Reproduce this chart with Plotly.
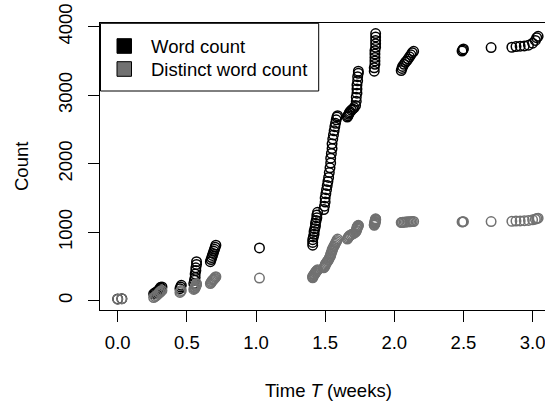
import plotly.graph_objects as go

# ---- data ----
weeks = [
    0.00, 0.03,
    0.26, 0.27, 0.28, 0.29, 0.30, 0.30, 0.31, 0.31, 0.32,
    0.45, 0.455, 0.46,
    0.55, 0.555, 0.56, 0.56, 0.565, 0.565, 0.57, 0.57,
    0.67, 0.675, 0.68, 0.685, 0.69, 0.695, 0.70, 0.705, 0.71,
    1.025,
    1.41, 1.41, 1.41, 1.415, 1.42, 1.42, 1.425, 1.43, 1.43, 1.435, 1.44, 1.44, 1.445,
    1.49, 1.495, 1.50, 1.50, 1.505, 1.51, 1.515, 1.52, 1.525, 1.53, 1.535, 1.54,
    1.54, 1.545, 1.55, 1.55, 1.555, 1.56, 1.565, 1.57, 1.575, 1.58, 1.585, 1.59,
    1.66, 1.665, 1.67, 1.675, 1.68, 1.69, 1.70, 1.71, 1.72, 1.725, 1.725, 1.73,
    1.73, 1.73, 1.735, 1.735, 1.74, 1.74,
    1.855, 1.855, 1.86, 1.86, 1.86, 1.86, 1.86, 1.865, 1.865, 1.865, 1.865, 1.865,
    2.05, 2.055, 2.06, 2.07, 2.08, 2.09, 2.10, 2.11, 2.12, 2.13, 2.14,
    2.49, 2.495, 2.50,
    2.70,
    2.85, 2.88, 2.91, 2.94, 2.97, 3.00, 3.02, 3.03, 3.04,
]
word_count = [
    25, 30,
    100, 115, 125, 140, 150, 165, 180, 195, 200,
    175, 200, 225,
    250, 300, 340, 390, 440, 480, 530, 570,
    570, 600, 630, 660, 690, 720, 750, 780, 810,
    770,
    810, 850, 890, 930, 970, 1010, 1050, 1090, 1130, 1170, 1210, 1250, 1290,
    1330, 1380, 1440, 1500, 1560, 1620, 1680, 1740, 1800, 1870, 1940, 2010,
    2080, 2150, 2220, 2290, 2360, 2420, 2480, 2540, 2590, 2640, 2680, 2700,
    2680, 2700, 2720, 2740, 2760, 2780, 2800, 2820, 2850, 2910, 2970, 3030,
    3090, 3150, 3210, 3270, 3320, 3350,
    3350, 3400, 3450, 3500, 3550, 3600, 3650, 3700, 3750, 3800, 3850, 3900,
    3360, 3390, 3420, 3450, 3480, 3500, 3530, 3560, 3590, 3620, 3640,
    3645, 3660, 3675,
    3695,
    3700, 3710, 3715, 3720, 3730, 3760, 3800, 3840, 3860,
]
distinct_count = [
    22, 28,
    45, 60, 75, 95, 110, 120, 130, 140, 150,
    120, 135, 150,
    165, 175, 185, 195, 210, 220, 235, 250,
    250, 265, 280, 295, 305, 315, 325, 340, 350,
    330,
    335, 345, 355, 365, 375, 385, 395, 405, 415, 425, 435, 440, 450,
    480, 495, 510, 525, 540, 555, 570, 585, 600, 620, 640, 660,
    680, 700, 720, 740, 760, 780, 800, 820, 840, 860, 880, 900,
    900, 915, 930, 945, 955, 965, 975, 985, 1000, 1015, 1030, 1045,
    1060, 1070, 1080, 1090, 1095, 1100,
    1100, 1110, 1120, 1130, 1140, 1150, 1160, 1170, 1180, 1185, 1190, 1195,
    1140, 1142, 1144, 1146, 1148, 1150, 1152, 1153, 1154, 1155, 1156,
    1150, 1152, 1154,
    1155,
    1158, 1162, 1165, 1168, 1172, 1180, 1190, 1200, 1205,
]
series_names = ["Word count", "Distinct word count"]
x_ticks = [0.0, 0.5, 1.0, 1.5, 2.0, 2.5, 3.0]
x_tick_labels = ["0.0", "0.5", "1.0", "1.5", "2.0", "2.5", "3.0"]
y_ticks = [0, 1000, 2000, 3000, 4000]
y_tick_labels = ["0", "1000", "2000", "3000", "4000"]

# ---- style ----
BLACK = "#000000"
GRAY = "#717171"
FONT = "Liberation Sans, Arial, sans-serif"
FS = 18.5

W, H = 545, 403
ML, MR, MT, MB = 100, 0, 23, 93
PW, PH = W - ML - MR, H - MT - MB


def px_x(p):
    return (p - ML) / PW


def px_y(p):
    return (H - MB - p) / PH


fig = go.Figure()
for vals, col in ((word_count, BLACK), (distinct_count, GRAY)):
    fig.add_trace(go.Scatter(
        x=weeks, y=vals, mode="markers", showlegend=False,
        marker=dict(symbol="circle-open", size=9.5, color=col,
                    line=dict(width=1.5, color=col)),
        hoverinfo="x+y",
    ))

axis_common = dict(
    showgrid=False, zeroline=False, showline=True, linecolor=BLACK, linewidth=1,
    ticks="outside", ticklen=11, tickwidth=1, tickcolor=BLACK,
    tickfont=dict(family=FONT, size=FS, color=BLACK),
)
fig.update_xaxes(range=[-0.128, 3.0897], tickvals=x_ticks, ticktext=x_tick_labels,
                 mirror=True, ticklabelstandoff=5, ticklabeloverflow="allow",
                 **axis_common)
fig.update_yaxes(range=[-136, 4054], tickvals=y_ticks, ticktext=y_tick_labels,
                 tickangle=-90, ticklabelstandoff=9, ticklabeloverflow="allow",
                 **axis_common)

# legend box (drawn to match R's legend)
shapes = [
    dict(type="rect", xref="paper", yref="paper",
         x0=px_x(100.5), x1=px_x(318.7), y0=px_y(91), y1=px_y(23.3),
         line=dict(color=BLACK, width=1), fillcolor="white", layer="above"),
]
legend_rows = [(46, BLACK), (69, GRAY)]
annotations = []
for (cy, col), name in zip(legend_rows, series_names):
    shapes.append(dict(type="rect", xref="paper", yref="paper",
                       x0=px_x(117), x1=px_x(131.5), y0=px_y(cy + 7.3), y1=px_y(cy - 7.3),
                       line=dict(color=BLACK, width=1), fillcolor=col, layer="above"))
    annotations.append(dict(text=name, xref="paper", yref="paper",
                            x=px_x(149), y=px_y(cy), xanchor="left", yanchor="middle",
                            showarrow=False, font=dict(family=FONT, size=FS, color=BLACK)))

annotations.append(dict(text="Time <i>T</i> (weeks)", xref="paper", yref="paper",
                        x=px_x(328), y=px_y(390), xanchor="center", yanchor="middle",
                        showarrow=False, font=dict(family=FONT, size=FS, color=BLACK)))
annotations.append(dict(text="Count", xref="paper", yref="paper",
                        x=px_x(21.5), y=px_y(166.5), xanchor="center", yanchor="middle",
                        textangle=-90, showarrow=False,
                        font=dict(family=FONT, size=FS, color=BLACK)))

fig.update_layout(
    width=W, height=H, margin=dict(l=ML, r=MR, t=MT, b=MB, pad=0),
    paper_bgcolor="white", plot_bgcolor="white",
    shapes=shapes, annotations=annotations, showlegend=False,
    font=dict(family=FONT, size=FS, color=BLACK),
)
fig.write_html(
    "out.html",
    config={"displayModeBar": False},
    post_script="document.body.style.margin='0';document.body.style.overflow='hidden';",
)
